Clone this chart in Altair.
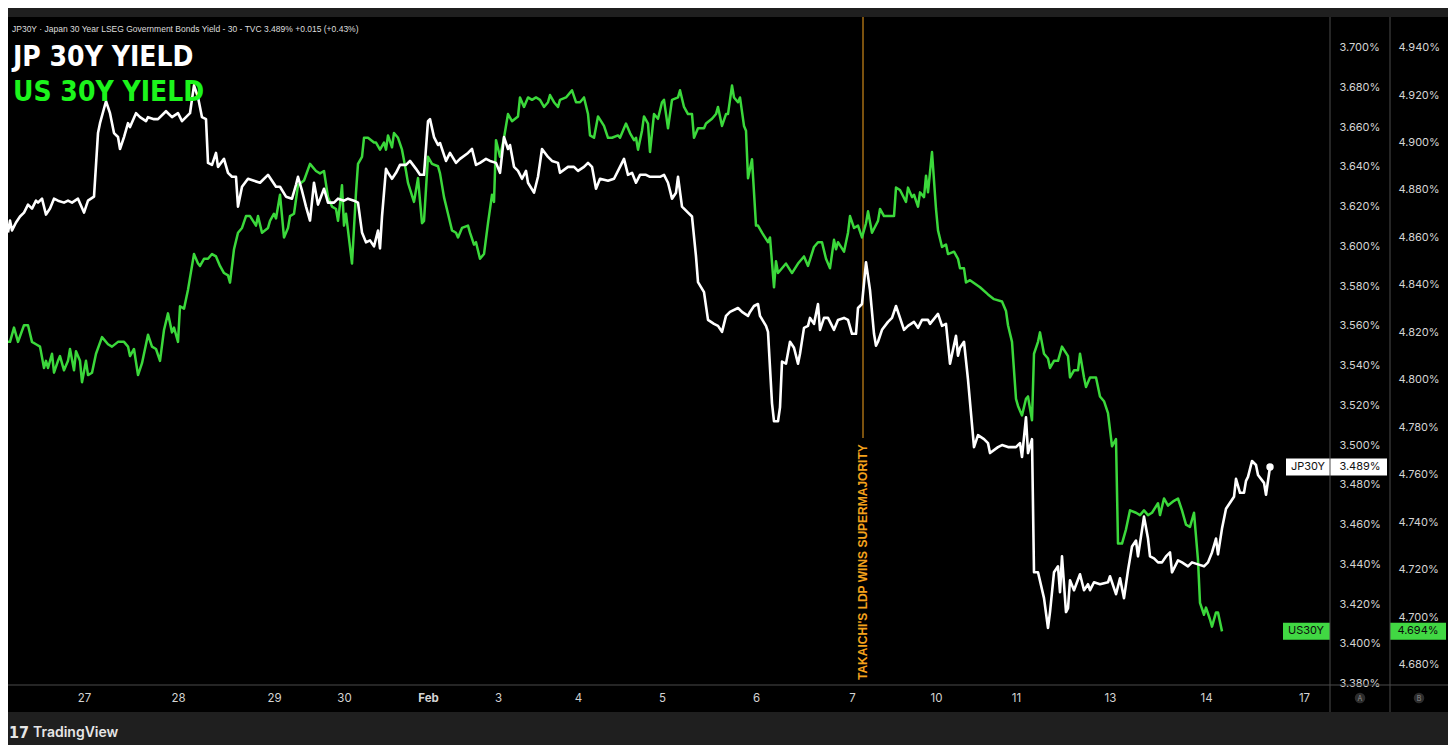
import json

import altair as alt
import pandas as pd

# 30-min bar chart, x is a 15-minute slot index along TradingView's compressed time axis
JP_POINTS = [
    (0, 3.607), (1, 3.613), (2, 3.608), (4, 3.612), (6, 3.615), (8, 3.617), (10, 3.621), (12, 3.619),
    (14, 3.623), (15, 3.622), (17, 3.624), (19, 3.616), (21, 3.619), (23, 3.624), (25, 3.623), (28, 3.622),
    (30, 3.623), (32, 3.622), (35, 3.624), (38, 3.617), (40, 3.623), (43, 3.625), (45, 3.657), (46, 3.662),
    (49, 3.673), (51, 3.667), (53, 3.657), (55, 3.655), (56, 3.649), (58, 3.655), (60, 3.662), (61, 3.660),
    (64, 3.667), (66, 3.665), (69, 3.663), (70, 3.665), (73, 3.664), (75, 3.664), (79, 3.668), (82, 3.665),
    (85, 3.667), (87, 3.663), (90, 3.666), (91, 3.667), (93, 3.681), (95, 3.675), (97, 3.665), (99, 3.664),
    (100, 3.642), (102, 3.641), (104, 3.647), (105, 3.640), (108, 3.644), (110, 3.637), (112, 3.635),
    (114, 3.635), (115, 3.620), (117, 3.630), (120, 3.634), (123, 3.633), (126, 3.632), (130, 3.636),
    (132, 3.633), (134, 3.630), (136, 3.630), (139, 3.625), (142, 3.624), (144, 3.631), (145, 3.635),
    (147, 3.628), (149, 3.620), (151, 3.613), (153, 3.632), (155, 3.621), (158, 3.629), (160, 3.622),
    (163, 3.622), (165, 3.624), (168, 3.623), (170, 3.624), (173, 3.623), (175, 3.622), (177, 3.607),
    (179, 3.602), (181, 3.603), (183, 3.600), (185, 3.608), (186, 3.599), (187, 3.615), (189, 3.639),
    (190, 3.637), (192, 3.634), (194, 3.637), (196, 3.641), (199, 3.641), (201, 3.643), (204, 3.639),
    (206, 3.636), (208, 3.636), (210, 3.663), (211, 3.664), (213, 3.655), (215, 3.651), (216, 3.652),
    (219, 3.643), (221, 3.647), (224, 3.642), (226, 3.644), (230, 3.647), (232, 3.649), (234, 3.641),
    (236, 3.642), (239, 3.644), (241, 3.643), (244, 3.642), (246, 3.637), (248, 3.655), (250, 3.649),
    (251, 3.651), (253, 3.640), (255, 3.638), (257, 3.634), (259, 3.638), (260, 3.632), (263, 3.627),
    (265, 3.635), (267, 3.649), (270, 3.645), (272, 3.643), (275, 3.642), (276, 3.637), (280, 3.640),
    (283, 3.640), (285, 3.638), (288, 3.640), (290, 3.642), (292, 3.640), (294, 3.629), (296, 3.634),
    (300, 3.633), (303, 3.634), (306, 3.640), (308, 3.644), (310, 3.636), (312, 3.637), (314, 3.632),
    (316, 3.636), (319, 3.636), (321, 3.635), (324, 3.635), (326, 3.635), (328, 3.636), (330, 3.632),
    (332, 3.624), (334, 3.627), (335, 3.635), (337, 3.620), (340, 3.617), (342, 3.615), (344, 3.595),
    (345, 3.582), (348, 3.577), (350, 3.563), (353, 3.561), (355, 3.560), (357, 3.557), (359, 3.565),
    (361, 3.567), (365, 3.569), (367, 3.567), (370, 3.565), (371, 3.567), (373, 3.570), (375, 3.571),
    (376, 3.565), (379, 3.560), (380, 3.557), (382, 3.521), (383, 3.512), (385, 3.512), (386, 3.519),
    (387, 3.542), (389, 3.541), (391, 3.552), (393, 3.549), (395, 3.541), (396, 3.546), (398, 3.559),
    (400, 3.560), (401, 3.564), (403, 3.561), (405, 3.571), (406, 3.558), (408, 3.564), (410, 3.564),
    (413, 3.558), (415, 3.563), (418, 3.564), (420, 3.563), (422, 3.556), (424, 3.556), (425, 3.569),
    (427, 3.571), (429, 3.592), (431, 3.578), (433, 3.556), (434, 3.550), (435, 3.552), (437, 3.558),
    (440, 3.562), (442, 3.564), (444, 3.570), (446, 3.564), (448, 3.558), (450, 3.560), (453, 3.562),
    (455, 3.559), (457, 3.563), (460, 3.563), (461, 3.561), (465, 3.566), (467, 3.560), (469, 3.561),
    (471, 3.541), (474, 3.555), (475, 3.545), (476, 3.549), (478, 3.552), (480, 3.533), (483, 3.499),
    (485, 3.505), (488, 3.503), (490, 3.501), (491, 3.496), (495, 3.499), (497, 3.500), (500, 3.499),
    (502, 3.499), (504, 3.499), (506, 3.501), (507, 3.494), (509, 3.514), (510, 3.496), (512, 3.503),
    (513, 3.436), (515, 3.436), (518, 3.423), (520, 3.408), (521, 3.416), (523, 3.436), (525, 3.439),
    (526, 3.426), (527, 3.444), (529, 3.416), (530, 3.418), (531, 3.432), (533, 3.427), (536, 3.435),
    (538, 3.427), (540, 3.430), (541, 3.427), (543, 3.431), (546, 3.430), (550, 3.431), (551, 3.434),
    (554, 3.425), (556, 3.433), (558, 3.423), (560, 3.437), (562, 3.449), (564, 3.452), (565, 3.444),
    (568, 3.464), (570, 3.453), (571, 3.444), (573, 3.443), (575, 3.441), (577, 3.441), (579, 3.444),
    (581, 3.446), (582, 3.436), (585, 3.442), (587, 3.441), (590, 3.439), (592, 3.441), (595, 3.440),
    (598, 3.439), (600, 3.441), (602, 3.446), (604, 3.453), (605, 3.445), (607, 3.458), (609, 3.468),
    (611, 3.471), (613, 3.474), (614, 3.483), (616, 3.476), (618, 3.476), (619, 3.482), (620, 3.484),
    (622, 3.492), (624, 3.490), (625, 3.485), (628, 3.481), (629, 3.475), (631, 3.489),
]

US_POINTS = [
    (0, 4.816), (1, 4.816), (3, 4.822), (5, 4.816), (8, 4.823), (10, 4.823), (12, 4.816), (14, 4.815),
    (16, 4.814), (18, 4.805), (19, 4.808), (20, 4.805), (22, 4.811), (23, 4.803), (25, 4.808), (26, 4.810),
    (28, 4.804), (30, 4.808), (31, 4.813), (33, 4.804), (34, 4.812), (36, 4.808), (37, 4.799), (39, 4.808),
    (40, 4.802), (42, 4.803), (44, 4.811), (47, 4.818), (50, 4.815), (52, 4.814), (55, 4.816), (58, 4.816),
    (60, 4.814), (61, 4.810), (63, 4.813), (65, 4.802), (67, 4.807), (70, 4.819), (72, 4.814), (74, 4.813),
    (76, 4.808), (78, 4.821), (80, 4.828), (82, 4.820), (83, 4.822), (85, 4.816), (86, 4.831), (88, 4.830),
    (90, 4.838), (93, 4.853), (95, 4.849), (96, 4.848), (98, 4.851), (100, 4.851), (102, 4.853),
    (104, 4.852), (106, 4.848), (108, 4.845), (110, 4.844), (111, 4.841), (113, 4.855), (115, 4.862),
    (117, 4.864), (119, 4.869), (121, 4.869), (124, 4.865), (125, 4.869), (127, 4.862), (130, 4.864),
    (131, 4.867), (133, 4.870), (134, 4.868), (136, 4.878), (138, 4.860), (140, 4.864), (141, 4.869),
    (143, 4.870), (145, 4.882), (148, 4.884), (151, 4.891), (154, 4.888), (156, 4.887), (158, 4.888),
    (160, 4.877), (162, 4.873), (164, 4.872), (165, 4.867), (166, 4.874), (167, 4.882), (168, 4.865),
    (169, 4.870), (172, 4.849), (174, 4.879), (175, 4.891), (177, 4.894), (178, 4.902), (180, 4.902),
    (183, 4.900), (184, 4.900), (186, 4.897), (188, 4.900), (189, 4.897), (190, 4.903), (192, 4.898),
    (193, 4.904), (195, 4.902), (197, 4.897), (199, 4.888), (200, 4.883), (203, 4.875), (205, 4.885),
    (207, 4.866), (208, 4.867), (210, 4.894), (212, 4.891), (215, 4.890), (216, 4.887), (218, 4.877),
    (220, 4.870), (222, 4.863), (224, 4.862), (225, 4.860), (227, 4.864), (230, 4.865), (231, 4.862),
    (233, 4.857), (234, 4.858), (236, 4.851), (238, 4.853), (240, 4.866), (242, 4.878), (243, 4.875),
    (244, 4.901), (246, 4.894), (248, 4.902), (250, 4.912), (252, 4.909), (255, 4.911), (256, 4.919),
    (258, 4.915), (260, 4.919), (262, 4.918), (264, 4.919), (266, 4.918), (268, 4.915), (270, 4.917),
    (271, 4.920), (273, 4.917), (275, 4.915), (276, 4.918), (279, 4.919), (282, 4.922), (284, 4.917),
    (286, 4.917), (288, 4.919), (290, 4.912), (291, 4.903), (293, 4.902), (295, 4.911), (298, 4.907),
    (300, 4.902), (302, 4.902), (305, 4.903), (306, 4.902), (309, 4.908), (311, 4.904), (313, 4.901),
    (314, 4.902), (315, 4.897), (317, 4.905), (318, 4.911), (320, 4.908), (321, 4.896), (323, 4.912),
    (325, 4.910), (327, 4.917), (328, 4.918), (330, 4.906), (332, 4.918), (335, 4.919), (336, 4.922),
    (338, 4.915), (340, 4.912), (342, 4.912), (343, 4.902), (345, 4.906), (348, 4.906), (349, 4.908),
    (352, 4.910), (354, 4.912), (355, 4.915), (357, 4.907), (359, 4.912), (360, 4.912), (362, 4.924),
    (363, 4.919), (365, 4.917), (366, 4.919), (368, 4.907), (369, 4.905), (370, 4.885), (372, 4.893),
    (374, 4.865), (375, 4.865), (377, 4.862), (380, 4.858), (381, 4.860), (383, 4.839), (384, 4.850),
    (385, 4.845), (389, 4.849), (392, 4.845), (395, 4.849), (398, 4.852), (400, 4.848), (403, 4.856),
    (405, 4.858), (407, 4.858), (409, 4.851), (411, 4.847), (413, 4.859), (414, 4.855), (415, 4.858),
    (418, 4.854), (420, 4.862), (421, 4.869), (423, 4.864), (425, 4.865), (427, 4.860), (429, 4.866),
    (430, 4.871), (432, 4.862), (435, 4.867), (436, 4.872), (438, 4.869), (440, 4.869), (443, 4.869),
    (444, 4.881), (446, 4.880), (449, 4.875), (450, 4.881), (452, 4.877), (453, 4.878), (455, 4.873),
    (456, 4.879), (458, 4.877), (459, 4.886), (460, 4.879), (462, 4.896), (464, 4.872), (465, 4.863),
    (467, 4.856), (469, 4.857), (470, 4.853), (473, 4.854), (475, 4.851), (476, 4.847), (478, 4.847),
    (479, 4.841), (481, 4.842), (486, 4.839), (490, 4.836), (493, 4.834), (497, 4.833), (499, 4.829),
    (500, 4.823), (502, 4.816), (504, 4.792), (505, 4.789), (507, 4.785), (509, 4.792), (510, 4.793),
    (512, 4.783), (513, 4.811), (515, 4.816), (516, 4.820), (518, 4.811), (520, 4.809), (521, 4.805),
    (523, 4.808), (525, 4.808), (527, 4.814), (530, 4.810), (531, 4.801), (533, 4.804), (535, 4.804),
    (536, 4.811), (538, 4.801), (539, 4.797), (541, 4.801), (544, 4.801), (546, 4.793), (548, 4.791),
    (550, 4.786), (552, 4.772), (554, 4.775), (555, 4.731), (557, 4.731), (559, 4.737), (561, 4.745),
    (564, 4.744), (566, 4.743), (568, 4.745), (570, 4.743), (572, 4.744), (575, 4.748), (576, 4.743),
    (578, 4.750), (580, 4.747), (583, 4.749), (585, 4.750), (587, 4.745), (589, 4.739), (591, 4.738),
    (593, 4.744), (595, 4.724), (596, 4.706), (598, 4.701), (599, 4.704), (601, 4.699), (602, 4.696),
    (604, 4.702), (605, 4.702), (607, 4.694),
]

X_TICK_SLOTS = [38, 85, 133, 168, 210, 245, 285, 327, 374, 422, 464, 504, 551, 599, 648]
X_TICK_LABELS = ["27", "28", "29", "30", "Feb", "3", "4", "5", "6", "7", "10", "11", "13", "14", "17"]
JP_TICKS = [3.38, 3.40, 3.42, 3.44, 3.46, 3.48, 3.50, 3.52, 3.54, 3.56, 3.58, 3.60, 3.62, 3.64, 3.66, 3.68, 3.70]
US_TICKS = [4.68, 4.70, 4.72, 4.74, 4.76, 4.78, 4.80, 4.82, 4.84, 4.86, 4.88, 4.90, 4.92, 4.94]

EVENT_SLOT = [427.5]
EVENT_TEXT = ["TAKAICHI'S LDP WINS SUPERMAJORITY"]
HEADER = "JP30Y · Japan 30 Year LSEG Government Bonds Yield - 30 - TVC  3.489%  +0.015 (+0.43%)"

WHITE = "#ffffff"
GREEN = "#3bd83b"
TITLE_GREEN = "#1cf51c"
BOX_GREEN = "#41d843"
ORANGE = "#f5a21c"
GRID_GRAY = "#4a4a4a"
FRAME_GRAY = "#1f1f1f"
LABEL = "#d4d4d4"
CONDENSED = "'DejaVu Sans Condensed', 'Liberation Sans Narrow', Roboto, sans-serif"

jp = pd.DataFrame(JP_POINTS, columns=["slot", "yield"])
us = pd.DataFrame(US_POINTS, columns=["slot", "yield"])
jp_last = pd.DataFrame({"slot": [JP_POINTS[-1][0]], "yield": [JP_POINTS[-1][1]],
                        "name": ["JP30Y"], "label": [f"{JP_POINTS[-1][1]:.3f}%"]})
us_last = pd.DataFrame({"slot": [US_POINTS[-1][0]], "yield": [US_POINTS[-1][1]],
                        "name": ["US30Y"], "label": [f"{US_POINTS[-1][1]:.3f}%"]})
one = pd.DataFrame({"k": [0]})

x_scale = alt.Scale(domain=[0, 661], nice=False, zero=False)
x_axis = alt.Axis(
    values=X_TICK_SLOTS,
    labelExpr=f"{json.dumps(X_TICK_LABELS)}[indexof({json.dumps(X_TICK_SLOTS)}, datum.value)]",
    domain=False, ticks=False, tickSize=0, grid=False, title=None,
    labelPadding=13, labelBaseline="middle", labelColor=LABEL, labelFont="Inter",
    labelFontSize=11.5, labelFlush=False, labelOverlap=False,
    labelFontWeight={"condition": {"test": "datum.value === 210", "value": "bold"}, "value": "normal"},
)


def xenc():
    return alt.X("slot:Q", scale=x_scale, axis=x_axis)


def y_axis(ticks, offset, pad):
    return alt.Axis(
        orient="right", offset=offset, values=ticks,
        labelExpr="format(datum.value, '.3f') + '%'",
        labelAlign="left", labelBaseline="middle", labelPadding=pad,
        ticks=False, tickSize=0, domain=False, grid=False, title=None,
        labelColor=LABEL, labelFont="Inter", labelFontSize=11, labelOverlap=False,
    )


jp_y = alt.Y("yield:Q", scale=alt.Scale(domain=[3.3793, 3.7154], nice=False, zero=False),
             axis=y_axis(JP_TICKS, 0, 9))
us_y = alt.Y("yield:Q", scale=alt.Scale(domain=[4.6714, 4.9529], nice=False, zero=False),
             axis=y_axis(US_TICKS, 60, 8))

# JP 30Y series with its price tag
jp_line = alt.Chart(jp).mark_line(color=WHITE, strokeWidth=2.6, strokeJoin="round").encode(x=xenc(), y=jp_y)
jp_dot = alt.Chart(jp_last).mark_circle(color=WHITE, size=55, opacity=1).encode(x=xenc(), y=jp_y)
jp_box = alt.Chart(jp_last).mark_rect(color=WHITE, yOffset=-8.5, y2Offset=8.5).encode(
    x=alt.value(1278), x2=alt.value(1379), y=jp_y, y2=alt.Y2("yield"))
jp_name = alt.Chart(jp_last).mark_text(color="#111111", font="Inter", fontSize=11, baseline="middle").encode(
    x=alt.value(1300), y=jp_y, text="name:N")
jp_val = alt.Chart(jp_last).mark_text(color="#111111", font="Inter", fontSize=11, baseline="middle").encode(
    x=alt.value(1352), y=jp_y, text="label:N")
jp_group = alt.layer(jp_line, jp_dot, jp_box, jp_name, jp_val)

# US 30Y series with its price tags
us_line = alt.Chart(us).mark_line(color=GREEN, strokeWidth=2.5, strokeJoin="round").encode(x=xenc(), y=us_y)
us_box1 = alt.Chart(us_last).mark_rect(color=BOX_GREEN, yOffset=-8.5, y2Offset=8.5).encode(
    x=alt.value(1275), x2=alt.value(1322), y=us_y, y2=alt.Y2("yield"))
us_box2 = alt.Chart(us_last).mark_rect(color=BOX_GREEN, yOffset=-8.5, y2Offset=8.5).encode(
    x=alt.value(1382), x2=alt.value(1438), y=us_y, y2=alt.Y2("yield"))
us_name = alt.Chart(us_last).mark_text(color="#0c0c0c", font="Inter", fontSize=11, baseline="middle").encode(
    x=alt.value(1298), y=us_y, text="name:N")
us_val = alt.Chart(us_last).mark_text(color="#0c0c0c", font="Inter", fontSize=11, baseline="middle").encode(
    x=alt.value(1410), y=us_y, text="label:N")
us_group = alt.layer(us_line, us_box1, us_box2, us_name, us_val)

# election event marker
event = pd.DataFrame({"slot": EVENT_SLOT, "text": EVENT_TEXT})
event_rule = alt.Chart(event).mark_rule(color=ORANGE, strokeWidth=1).encode(
    x=xenc(), y=alt.value(0), y2=alt.value(421))
event_text = alt.Chart(event).mark_text(
    color=ORANGE, angle=270, align="left", baseline="middle", font="Liberation Sans",
    fontWeight="bold", fontSize=12
).encode(x=xenc(), y=alt.value(663), text="text:N")

# titles and header
titles = pd.DataFrame({"t": ["JP 30Y YIELD", "US 30Y YIELD"]})
jp_title = alt.Chart(titles.iloc[[0]]).mark_text(
    color=WHITE, font=CONDENSED, fontWeight="bold", fontSize=28, align="left", baseline="alphabetic"
).encode(x=alt.value(5), y=alt.value(49), text="t:N")
us_title = alt.Chart(titles.iloc[[1]]).mark_text(
    color=TITLE_GREEN, font=CONDENSED, fontWeight="bold", fontSize=28, align="left", baseline="alphabetic"
).encode(x=alt.value(5), y=alt.value(84), text="t:N")
header = alt.Chart(pd.DataFrame({"t": [HEADER]})).mark_text(
    color="#dedede", font="Liberation Sans", fontSize=8.5, align="left", baseline="middle"
).encode(x=alt.value(4), y=alt.value(12), text="t:N")

# frame: gray bands, separators, axis badges, logo
top_band = alt.Chart(one).mark_rect(color=FRAME_GRAY).encode(
    x=alt.value(0), x2=alt.value(1440), y=alt.value(-9), y2=alt.value(0))
bottom_band = alt.Chart(one).mark_rect(color=FRAME_GRAY).encode(
    x=alt.value(0), x2=alt.value(1440), y=alt.value(695), y2=alt.value(728))
sep_a = alt.Chart(one).mark_rule(color=GRID_GRAY, strokeWidth=1).encode(
    x=alt.value(1322), y=alt.value(0), y2=alt.value(695))
sep_b = alt.Chart(one).mark_rule(color=GRID_GRAY, strokeWidth=1).encode(
    x=alt.value(1382), y=alt.value(0), y2=alt.value(695))
sep_x = alt.Chart(one).mark_rule(color=GRID_GRAY, strokeWidth=1).encode(
    x=alt.value(0), x2=alt.value(1440), y=alt.value(668))
badges = pd.DataFrame({"t": ["A", "B"]})
badge_a = alt.Chart(badges.iloc[[0]]).mark_point(shape="circle", filled=True, size=110, color="#2c2c2c", opacity=1).encode(
    x=alt.value(1352), y=alt.value(681))
badge_b = alt.Chart(badges.iloc[[1]]).mark_point(shape="circle", filled=True, size=110, color="#2c2c2c", opacity=1).encode(
    x=alt.value(1411), y=alt.value(681))
badge_a_t = alt.Chart(badges.iloc[[0]]).mark_text(color="#8c8c8c", fontSize=7, font="Inter", baseline="middle").encode(
    x=alt.value(1352), y=alt.value(681.5), text="t:N")
badge_b_t = alt.Chart(badges.iloc[[1]]).mark_text(color="#8c8c8c", fontSize=7, font="Inter", baseline="middle").encode(
    x=alt.value(1411), y=alt.value(681.5), text="t:N")
logo_mark = alt.Chart(pd.DataFrame({"t": ["17"]})).mark_text(
    color="#e6e6e6", font=CONDENSED, fontWeight="bold", fontSize=16, align="left", baseline="middle"
).encode(x=alt.value(1), y=alt.value(716), text="t:N")
logo_text = alt.Chart(pd.DataFrame({"t": ["TradingView"]})).mark_text(
    color="#e6e6e6", font="Inter", fontWeight=600, fontSize=14, align="left", baseline="middle"
).encode(x=alt.value(25), y=alt.value(716), text="t:N")

chart = alt.layer(
    top_band, bottom_band, event_rule, event_text, us_group, jp_group,
    jp_title, us_title, header, sep_a, sep_b, sep_x,
    badge_a, badge_b, badge_a_t, badge_b_t, logo_mark, logo_text,
).resolve_scale(y="independent").properties(
    width=1322, height=668,
    padding={"left": 0, "top": 9, "right": 118, "bottom": 60},
    autosize=alt.AutoSizeParams(type="none"),
).configure(background="#000000").configure_view(stroke=None)

chart.save("out.html", embed_options={"renderer": "svg", "actions": False})
